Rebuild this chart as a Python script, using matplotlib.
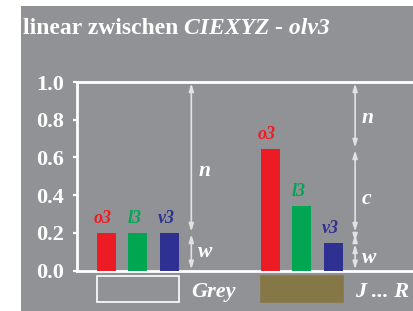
import matplotlib
matplotlib.use('Agg')
import matplotlib.pyplot as plt
from matplotlib.patches import Rectangle, FancyArrowPatch
import matplotlib.transforms as mtransforms

# ---- data ----
categories = ['o3', 'l3', 'v3']
grey_values = [0.2, 0.2, 0.2]
jr_values = [0.645, 0.343, 0.147]
group_names = ['Grey', 'J ... R']
yticks = [0.0, 0.2, 0.4, 0.6, 0.8, 1.0]
ytick_labels = ['0.0', '0.2', '0.4', '0.6', '0.8', '1.0']
# arrow segments per group: (low, high, label, label_y)
grey_segments = [(0.2, 1.0, 'n', 0.53), (0.0, 0.2, 'w', 0.10)]
jr_segments = [(0.645, 1.0, 'n', 0.81), (0.2, 0.645, 'c', 0.38),
               (0.147, 0.2, '', None), (0.0, 0.147, 'w', 0.067)]

# ---- style ----
BG = '#919296'
WHITE = '#ffffff'
ARROW = '#e2e2e2'
OLIVE = '#867846'
bar_colors = ['#ED1C24', '#00A651', '#2E3192']
legend_faces = ['none', OLIVE]
legend_edges = [WHITE, OLIVE]
FONT = 'Liberation Serif'

W, H = 414, 311
fig = plt.figure(figsize=(W / 100, H / 100), dpi=100, facecolor='white')
fig.patches.append(Rectangle((21 / W, 0), 1, 1 - 6 / H, transform=fig.transFigure,
                             facecolor=BG, edgecolor='none', zorder=-10))

ax = fig.add_axes([77 / W, 1 - 270.7 / H, 1 - 77 / W, (270.7 - 82) / H])
ax.set_facecolor('none')

group_offsets = [0.0, 5.2]
bar_width = 0.6
arrow_dx = 2.7

for g, (vals, segs) in enumerate([(grey_values, grey_segments), (jr_values, jr_segments)]):
    off = group_offsets[g]
    xs = [off + i for i in range(len(categories))]
    ax.bar(xs, vals, width=bar_width, color=bar_colors, zorder=3)
    for x, v, c, lab in zip(xs, vals, bar_colors, categories):
        ax.annotate(lab, (x - 0.1, v), xytext=(0, 7.2), textcoords='offset points',
                    ha='center', va='baseline', color=c, fontsize=13,
                    fontweight='bold', fontstyle='italic', family=FONT,
                    annotation_clip=False)
    ax_x = off + arrow_dx
    for lo, hi, lab, ly in segs:
        arr = FancyArrowPatch((ax_x, lo), (ax_x, hi),
                              arrowstyle='<|-|>,head_length=0.45,head_width=0.14',
                              mutation_scale=10, color=ARROW, lw=1.2,
                              shrinkA=1.0, shrinkB=1.0, zorder=4, clip_on=False)
        ax.add_patch(arr)
        if lab:
            ax.text(ax_x + 0.22, ly, lab, ha='left', va='center', color=WHITE,
                    fontsize=15.5, fontweight='bold', fontstyle='italic', family=FONT)
    # legend-like box under the axis
    trans = mtransforms.blended_transform_factory(ax.transData, ax.transAxes)
    x0 = xs[0] - bar_width / 2
    x1 = xs[-1] + bar_width / 2
    rect = Rectangle((x0, -0.166), x1 - x0, 0.138, transform=trans,
                     facecolor=legend_faces[g], edgecolor=legend_edges[g],
                     lw=1.2, clip_on=False)
    ax.add_patch(rect)
    ax.text(ax_x, -0.14, group_names[g], transform=trans, ha='left', va='baseline',
            color=WHITE, fontsize=16, fontweight='bold', fontstyle='italic', family=FONT)

ax.set_xlim(-0.93, 9.77)
ax.set_ylim(0, 1.0)
ax.set_yticks(yticks)
ax.set_yticklabels(ytick_labels, family=FONT, fontweight='bold', fontsize=16, color=WHITE)
ax.tick_params(axis='y', direction='out', length=3.2, width=1.6, color=WHITE, pad=6)
ax.set_xticks([])
for s in ['left', 'top', 'bottom']:
    ax.spines[s].set_color(WHITE)
    ax.spines[s].set_linewidth(2.0)
ax.spines['right'].set_visible(False)

t1 = fig.text(23 / W, 1 - 34 / H, 'linear zwischen ', fontsize=17, fontweight='bold',
              family=FONT, color=WHITE, va='baseline', ha='left')
ax.annotate('CIEXYZ - olv3', xy=(1, 0), xycoords=t1, va='bottom', ha='left',
            fontsize=17, fontweight='bold', fontstyle='italic', family=FONT, color=WHITE,
            annotation_clip=False)

fig.savefig('out.png', dpi=100, facecolor='white')
